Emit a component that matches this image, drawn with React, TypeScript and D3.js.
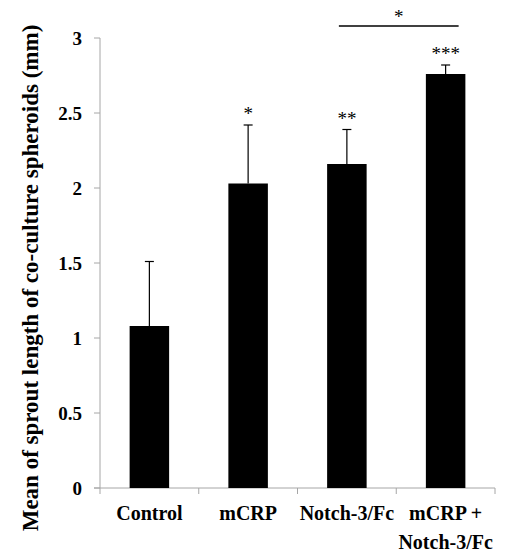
import React, { useEffect, useRef } from 'react';
import * as d3 from 'd3';

const groups = ['Control', 'mCRP', 'Notch-3/Fc', 'mCRP + Notch-3/Fc'];
const means = [1.08, 2.03, 2.16, 2.76];
const errors = [0.43, 0.39, 0.23, 0.06];
const stars = ['', '*', '**', '***'];
const yTicks = [0, 0.5, 1, 1.5, 2, 2.5, 3];

const App = () => {
    const ref = useRef<SVGSVGElement>(null);

    useEffect(() => {
        const width = 507;
        const height = 553;
        const margin = { top: 38, right: 12, bottom: 65, left: 100 };
        const font = '"Liberation Serif", "Times New Roman", serif';

        const svg = d3.select(ref.current);
        svg.selectAll('*').remove();

        const x = d3.scaleBand()
            .domain(groups)
            .range([margin.left, width - margin.right])
            .paddingInner(0.6)
            .paddingOuter(0.3);

        const y = d3.scaleLinear()
            .domain([0, 3])
            .range([height - margin.bottom, margin.top]);

        const step = x.step();
        const bounds = groups.map((g) => (x(g) as number) - (step - x.bandwidth()) / 2);
        bounds.push(bounds[bounds.length - 1] + step);

        const axisColor = '#a6a6a6';

        // y axis
        svg.append('line')
            .attr('x1', margin.left).attr('x2', margin.left)
            .attr('y1', y(0)).attr('y2', y(3))
            .attr('stroke', axisColor);
        svg.append('g')
            .selectAll('line')
            .data(yTicks)
            .join('line')
            .attr('x1', margin.left - 6).attr('x2', margin.left)
            .attr('y1', (d) => y(d)).attr('y2', (d) => y(d))
            .attr('stroke', axisColor);
        svg.append('g')
            .selectAll('text')
            .data(yTicks)
            .join('text')
            .attr('x', margin.left - 18)
            .attr('y', (d) => y(d))
            .attr('dy', '0.35em')
            .attr('text-anchor', 'end')
            .style('font', `bold 19px ${font}`)
            .text((d) => String(d));

        // x axis
        svg.append('line')
            .attr('x1', margin.left - 6).attr('x2', bounds[bounds.length - 1])
            .attr('y1', y(0)).attr('y2', y(0))
            .attr('stroke', axisColor);
        svg.append('g')
            .selectAll('line')
            .data(bounds)
            .join('line')
            .attr('x1', (d) => d).attr('x2', (d) => d)
            .attr('y1', y(0)).attr('y2', y(0) + 6)
            .attr('stroke', axisColor);

        // bars
        svg.append('g')
            .selectAll('rect')
            .data(groups)
            .join('rect')
            .attr('x', (d) => x(d) as number)
            .attr('width', x.bandwidth())
            .attr('y', (d, i) => y(means[i]))
            .attr('height', (d, i) => y(0) - y(means[i]))
            .attr('fill', '#000');

        // error bars
        const eb = svg.append('g')
            .selectAll('g')
            .data(groups)
            .join('g')
            .attr('stroke', '#000')
            .attr('stroke-width', 1.2);
        eb.append('line')
            .attr('x1', (d) => (x(d) as number) + x.bandwidth() / 2)
            .attr('x2', (d) => (x(d) as number) + x.bandwidth() / 2)
            .attr('y1', (d, i) => y(means[i]))
            .attr('y2', (d, i) => y(means[i] + errors[i]));
        eb.append('line')
            .attr('x1', (d) => (x(d) as number) + x.bandwidth() / 2 - 4.5)
            .attr('x2', (d) => (x(d) as number) + x.bandwidth() / 2 + 4.5)
            .attr('y1', (d, i) => y(means[i] + errors[i]))
            .attr('y2', (d, i) => y(means[i] + errors[i]));

        // significance stars
        svg.append('g')
            .selectAll('text')
            .data(groups)
            .join('text')
            .attr('x', (d) => (x(d) as number) + x.bandwidth() / 2)
            .attr('y', (d, i) => y(means[i] + errors[i]) - 5)
            .attr('text-anchor', 'middle')
            .style('font', `19px ${font}`)
            .text((d, i) => stars[i]);

        // bracket between Notch-3/Fc and combination
        const bx1 = (x(groups[2]) as number) + x.bandwidth() / 2 - 8;
        const bx2 = (x(groups[3]) as number) + x.bandwidth() / 2 + 13;
        svg.append('line')
            .attr('x1', bx1).attr('x2', bx2)
            .attr('y1', y(3.08)).attr('y2', y(3.08))
            .attr('stroke', '#000')
            .attr('stroke-width', 1.5);
        svg.append('text')
            .attr('x', (bx1 + bx2) / 2)
            .attr('y', y(3.08) - 3)
            .attr('text-anchor', 'middle')
            .style('font', `19px ${font}`)
            .text('*');

        // category labels
        const labelLines = [['Control'], ['mCRP'], ['Notch-3/Fc'], ['mCRP +', 'Notch-3/Fc']];
        const labels = svg.append('g')
            .selectAll('text')
            .data(groups)
            .join('text')
            .attr('text-anchor', 'middle')
            .style('font', `bold 20px ${font}`);
        labels.each(function (d, i) {
            const t = d3.select(this);
            const cx = (x(d) as number) + x.bandwidth() / 2;
            labelLines[i].forEach((line, j) => {
                t.append('tspan')
                    .attr('x', cx)
                    .attr('y', y(0) + 32 + j * 29)
                    .text(line);
            });
        });

        // y axis title
        svg.append('text')
            .attr('transform', `translate(38, 278) rotate(-90)`)
            .attr('text-anchor', 'middle')
            .style('font', `bold 23px ${font}`)
            .text('Mean of sprout length of co-culture spheroids (mm)');
    }, []);

    return (
        <svg ref={ref} width={507} height={553}
            style={{ position: 'absolute', left: 0, top: 0, background: '#fff' }} />
    );
};

export default App;
